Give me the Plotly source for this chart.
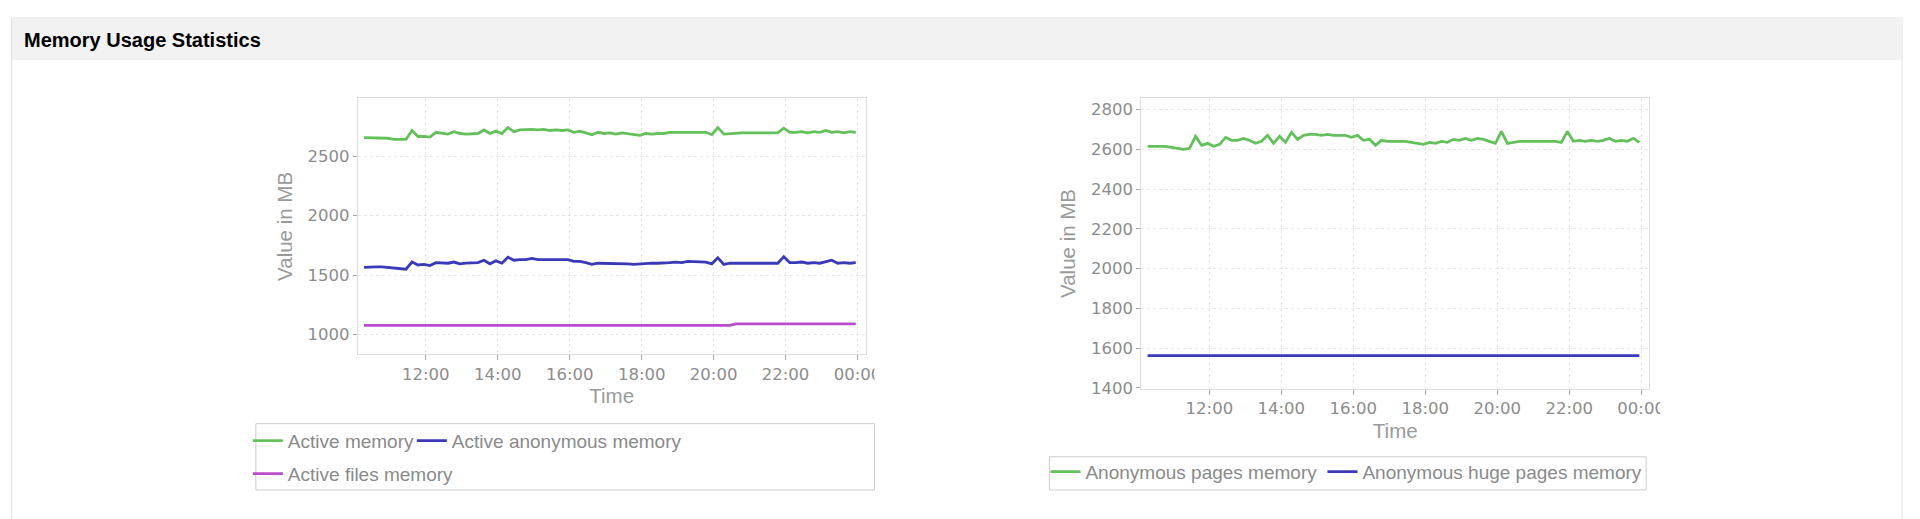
import pandas as pd
import plotly.graph_objects as go

# The figure fills the whole browser viewport; elements are placed as fractions
# of the visible frame (measured: the figure area maps onto ~1905 x 508 pixels
# of the 1920 x 519 picture).
FRAME_W, FRAME_H = 1905, 508

# ---------------- data ----------------
times = pd.date_range("2024-01-01 10:17", periods=83, freq="10min")

active_memory = [
    2655, 2655, 2655, 2655, 2650, 2640, 2640, 2640, 2715, 2665,
    2665, 2660, 2700, 2690, 2685, 2705, 2690, 2685, 2685, 2690,
    2720, 2690, 2710, 2690, 2740, 2705, 2720, 2725, 2725, 2720,
    2725, 2715, 2720, 2715, 2720, 2700, 2710, 2695, 2680, 2700,
    2690, 2695, 2685, 2695, 2690, 2680, 2675, 2690, 2685, 2690,
    2690, 2700, 2700, 2700, 2700, 2700, 2705, 2700, 2680, 2740,
    2685, 2690, 2695, 2695, 2695, 2695, 2695, 2695, 2695, 2695,
    2735, 2700, 2700, 2705, 2695, 2705, 2700, 2715, 2700, 2705,
    2695, 2705, 2700,
]
active_anon_memory = [
    1565, 1570, 1570, 1570, 1565, 1560, 1560, 1550, 1610, 1585,
    1590, 1580, 1605, 1600, 1600, 1610, 1595, 1600, 1600, 1605,
    1625, 1595, 1620, 1600, 1650, 1625, 1630, 1630, 1640, 1630,
    1630, 1630, 1630, 1625, 1630, 1615, 1615, 1605, 1590, 1600,
    1600, 1600, 1600, 1600, 1595, 1590, 1595, 1600, 1600, 1600,
    1600, 1605, 1610, 1605, 1615, 1615, 1615, 1610, 1595, 1645,
    1590, 1600, 1600, 1600, 1600, 1600, 1600, 1600, 1600, 1600,
    1655, 1605, 1605, 1610, 1600, 1605, 1600, 1610, 1625, 1600,
    1605, 1600, 1605,
]
active_files_memory = [
    1078, 1078, 1078, 1078, 1078, 1078, 1078, 1078, 1078, 1078,
    1078, 1078, 1078, 1078, 1078, 1078, 1078, 1078, 1078, 1078,
    1078, 1078, 1078, 1078, 1078, 1078, 1078, 1078, 1078, 1078,
    1078, 1078, 1078, 1078, 1078, 1078, 1078, 1078, 1078, 1078,
    1078, 1078, 1078, 1078, 1078, 1078, 1078, 1078, 1078, 1078,
    1078, 1078, 1078, 1078, 1078, 1078, 1078, 1078, 1078, 1078,
    1078, 1078, 1090, 1090, 1090, 1090, 1090, 1090, 1090, 1090,
    1090, 1090, 1090, 1090, 1090, 1090, 1090, 1090, 1090, 1090,
    1090, 1090, 1090,
]
anon_pages_memory = [
    2615, 2615, 2615, 2615, 2610, 2605, 2600, 2605, 2665, 2620,
    2630, 2615, 2625, 2660, 2645, 2645, 2655, 2645, 2630, 2640,
    2670, 2630, 2665, 2635, 2685, 2650, 2670, 2675, 2675, 2670,
    2675, 2670, 2670, 2670, 2660, 2670, 2645, 2650, 2620, 2645,
    2640, 2640, 2640, 2640, 2635, 2630, 2625, 2635, 2630, 2640,
    2635, 2650, 2645, 2655, 2645, 2655, 2650, 2640, 2630, 2690,
    2630, 2635, 2640, 2640, 2640, 2640, 2640, 2640, 2640, 2635,
    2690, 2640, 2645, 2640, 2645, 2640, 2645, 2655, 2640, 2645,
    2640, 2655, 2635,
]
anon_huge_pages_memory = [
    1562, 1562, 1562, 1562, 1562, 1562, 1562, 1562, 1562, 1562,
    1562, 1562, 1562, 1562, 1562, 1562, 1562, 1562, 1562, 1562,
    1562, 1562, 1562, 1562, 1562, 1562, 1562, 1562, 1562, 1562,
    1562, 1562, 1562, 1562, 1562, 1562, 1562, 1562, 1562, 1562,
    1562, 1562, 1562, 1562, 1562, 1562, 1562, 1562, 1562, 1562,
    1562, 1562, 1562, 1562, 1562, 1562, 1562, 1562, 1562, 1562,
    1562, 1562, 1562, 1562, 1562, 1562, 1562, 1562, 1562, 1562,
    1562, 1562, 1562, 1562, 1562, 1562, 1562, 1562, 1562, 1562,
    1562, 1562, 1562,
]

left_y_ticks = [1000, 1500, 2000, 2500]
right_y_ticks = [1400, 1600, 1800, 2000, 2200, 2400, 2600, 2800]
x_range = ["2024-01-01 10:06:40", "2024-01-02 00:13:20"]

GREEN = "#64c05a"
BLUE = "#3a3ab8"
MAGENTA = "#b94ccb"


# ---------------- helpers (picture pixel -> paper fraction) ----------------
def px(x):
    return x / FRAME_W


def py(y):
    return 1 - y / FRAME_H


fig = go.Figure()

line_w = 2.8
fig.add_trace(go.Scatter(x=times, y=active_memory, name="Active memory", mode="lines",
                         line=dict(color=GREEN, width=line_w), xaxis="x", yaxis="y",
                         legend="legend", legendwidth=119))
fig.add_trace(go.Scatter(x=times, y=active_anon_memory, name="Active anonymous memory", mode="lines",
                         line=dict(color=BLUE, width=line_w), xaxis="x", yaxis="y", legend="legend"))
fig.add_trace(go.Scatter(x=times, y=active_files_memory, name="Active files memory", mode="lines",
                         line=dict(color=MAGENTA, width=line_w), xaxis="x", yaxis="y", legend="legend2"))
fig.add_trace(go.Scatter(x=times, y=anon_pages_memory, name="Anonymous pages memory", mode="lines",
                         line=dict(color=GREEN, width=line_w), xaxis="x2", yaxis="y2",
                         legend="legend3", legendwidth=232))
fig.add_trace(go.Scatter(x=times, y=anon_huge_pages_memory, name="Anonymous huge pages memory", mode="lines",
                         line=dict(color=BLUE, width=line_w), xaxis="x2", yaxis="y2", legend="legend3"))

tick_font = dict(family="DejaVu Sans", size=16.5, color="#8c8c8c")
title_font = dict(family="Liberation Sans", size=20.5, color="#9a9a9a")
legend_font = dict(family="Liberation Sans", size=19, color="#8a8a8a")

axis_common = dict(
    showline=True, mirror=True, linecolor="#dddddd", linewidth=1,
    showgrid=True, gridcolor="#e6e6e6", griddash="3px,3px", gridwidth=1,
    ticks="outside", tickcolor="#a8a8a8", tickwidth=1,
    tickfont=tick_font, zeroline=False, fixedrange=True,
)

xaxis_common = dict(axis_common, type="date", range=x_range, tick0="2024-01-01 00:00",
                    dtick=7200000, tickformat="%H:%M", ticklen=5)

fig.update_layout(
    autosize=True,
    margin=dict(l=0, r=0, t=0, b=0),
    paper_bgcolor="white", plot_bgcolor="white",
    xaxis=dict(xaxis_common, domain=[px(358), px(866)], anchor="y",
               title=dict(text="Time", font=title_font, standoff=5)),
    yaxis=dict(axis_common, domain=[py(353), py(98)], anchor="x", range=[834, 2985],
               tickvals=left_y_ticks, ticklen=4,
               title=dict(text="Value in MB", font=title_font, standoff=9)),
    xaxis2=dict(xaxis_common, domain=[px(1142), px(1650)], anchor="y2",
                title=dict(text="Time", font=title_font, standoff=6)),
    yaxis2=dict(axis_common, domain=[py(387), py(98)], anchor="x2", range=[1397, 2856],
                tickvals=right_y_ticks, ticklen=4,
                title=dict(text="Value in MB", font=title_font, standoff=9)),
    legend=dict(orientation="h", x=px(248), y=py(439), xanchor="left", yanchor="middle",
                bgcolor="rgba(0,0,0,0)", borderwidth=0, font=legend_font),
    legend2=dict(orientation="h", x=px(248), y=py(472), xanchor="left", yanchor="middle",
                 bgcolor="rgba(0,0,0,0)", borderwidth=0, font=legend_font),
    legend3=dict(orientation="h", x=px(1046), y=py(470), xanchor="left", yanchor="middle",
                 bgcolor="rgba(0,0,0,0)", borderwidth=0, font=legend_font),
    hovermode=False,
)

shapes = [
    # panel outline
    dict(type="rect", xref="paper", yref="paper", x0=px(11.5), x1=px(1903), y0=py(600), y1=py(18),
         line=dict(color="#e2e2e2", width=1), fillcolor="white", layer="below"),
    # header band
    dict(type="rect", xref="paper", yref="paper", x0=px(12), x1=px(1902.5), y0=py(60), y1=py(18.5),
         line=dict(width=0), fillcolor="#f2f2f2", layer="below"),
    # legend boxes
    dict(type="rect", xref="paper", yref="paper", x0=px(256), x1=px(875), y0=py(488), y1=py(422),
         line=dict(color="#cccccc", width=1), fillcolor="rgba(0,0,0,0)", layer="below"),
    dict(type="rect", xref="paper", yref="paper", x0=px(1050), x1=px(1647), y0=py(488), y1=py(455),
         line=dict(color="#cccccc", width=1), fillcolor="rgba(0,0,0,0)", layer="below"),
    # chart canvases clip the last time label on the right
    dict(type="rect", xref="paper", yref="paper", x0=px(875), x1=px(900), y0=py(390), y1=py(358),
         line=dict(width=0), fillcolor="white", layer="above"),
    dict(type="rect", xref="paper", yref="paper", x0=px(1661), x1=px(1690), y0=py(424), y1=py(391),
         line=dict(width=0), fillcolor="white", layer="above"),
]
fig.update_layout(shapes=shapes)

fig.add_annotation(text="<b>Memory Usage Statistics</b>", xref="paper", yref="paper",
                   x=px(22), y=py(40), xanchor="left", yanchor="middle", showarrow=False,
                   font=dict(family="Liberation Sans", size=20, color="#000000"))

post = (
    "document.documentElement.style.overflow='hidden';"
    "document.body.style.overflow='hidden';"
    "document.body.style.margin='0';"
    "var gd=document.getElementById('{plot_id}');"
    "gd.style.width='100vw';gd.style.height='100vh';"
    "Plotly.Plots.resize(gd);"
)

fig.write_html("out.html", config={"displayModeBar": False, "responsive": True},
               default_width="100vw", default_height="100vh", post_script=post)
